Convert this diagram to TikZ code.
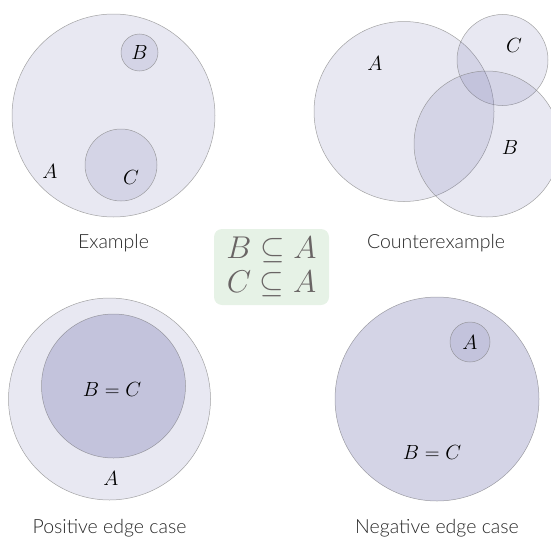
\RequirePackage{fix-cm}
\documentclass[tikz,border=0pt]{standalone}
\usepackage{fontspec}
\newfontfamily\capfont{Lato Light}
\definecolor{setcol}{RGB}{100,100,165}
\definecolor{boxgreen}{RGB}{230,242,230}
\definecolor{captxt}{RGB}{40,40,40}
\definecolor{boxtxt}{RGB}{105,100,100}
\begin{document}
\begin{tikzpicture}[x=1pt,y=-1pt,
  setc/.style={circle, inner sep=0pt, outer sep=0pt, fill=setcol, fill opacity=0.15, draw=gray, draw opacity=0.7, line width=0.5pt},
  lab/.style={inner sep=0pt, font=\fontsize{20.5}{23}\selectfont},
  captionlbl/.style={anchor=base, inner sep=0pt, text=captxt, font=\capfont\fontsize{19.5}{22}\selectfont}]
\useasboundingbox (0,0) rectangle (551,538);
\clip (0,0) rectangle (551,538);
% Example
\node[setc, minimum size=203pt] (exA) at (113.5,115.5) {};
\node[setc, minimum size=37pt] (exB) at (139.5,52.5) {};
\node[setc, minimum size=72pt] (exC) at (121,165) {};
\node[lab] (lexA) at (50,171) {$A$};
\node[lab] (lexB) at (139.5,52.5) {$B$};
\node[lab] (lexC) at (131,177) {$C$};
\node[captionlbl] (cex) at (113.5,248) {Example};
% Counterexample
\node[setc, minimum size=180pt] (ceA) at (404,111.5) {};
\node[setc, minimum size=91pt] (ceC) at (502.5,60) {};
\node[setc, minimum size=146pt] (ceB) at (487,144) {};
\node[lab] (lceA) at (375,63) {$A$};
\node[lab] (lceC) at (514,45) {$C$};
\node[lab] (lceB) at (510,147) {$B$};
\node[captionlbl] (cce) at (436,248) {Counterexample};
% Centre box
\node[fill=boxgreen, rounded corners=8pt, minimum width=115pt, minimum height=76pt, inner sep=0pt, text=boxtxt,
  font=\fontsize{31.5}{34}\selectfont, align=center] (box) at (271.5,267) {$B\subseteq A$\\$C\subseteq A$};
% Positive edge case
\node[setc, minimum size=202pt] (peA) at (109.5,399) {};
\node[setc, minimum size=144pt] (peB) at (113.5,386) {};
\node[setc, minimum size=144pt, draw opacity=0] (peC) at (113.5,386) {};
\node[lab] (lpeBC) at (112,389) {$B=C$};
\node[lab] (lpeA) at (111,478) {$A$};
\node[captionlbl] (cpe) at (109.5,533) {Positive edge case};
% Negative edge case
\node[setc, minimum size=204pt] (neB) at (437,399) {};
\node[setc, minimum size=204pt, draw opacity=0] (neC) at (437,399) {};
\node[setc, minimum size=40pt] (neA) at (470,342) {};
\node[lab] (lneA) at (470,342) {$A$};
\node[lab] (lneBC) at (432,452) {$B=C$};
\node[captionlbl] (cne) at (437,533) {Negative edge case};
\end{tikzpicture}
\end{document}
